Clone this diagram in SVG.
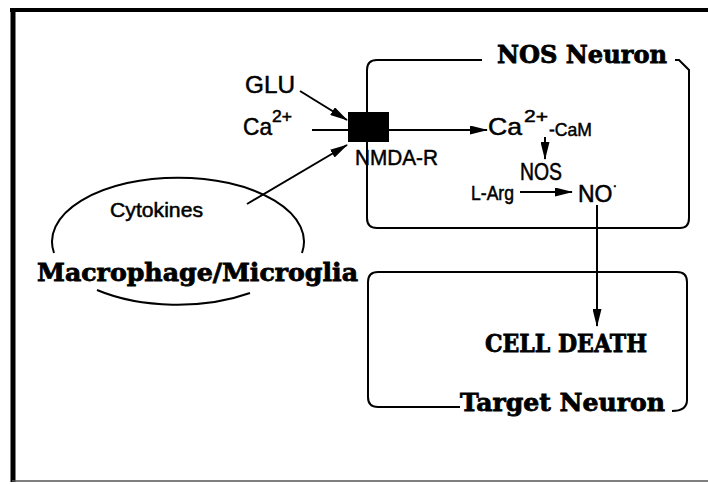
<svg xmlns="http://www.w3.org/2000/svg" width="708" height="484" viewBox="0 0 708 484">
<defs>
<marker id="ah" markerUnits="userSpaceOnUse" markerWidth="18" markerHeight="9" refX="17" refY="4.5" orient="auto">
<path d="M0,0 L18,4.5 L0,9 z" fill="#000"/>
</marker>
<style>
.sans{font-family:"Liberation Sans",Arial,sans-serif;fill:#000;stroke:#000;stroke-width:0.5}
.bold{font-family:"DejaVu Serif","Liberation Serif",serif;font-weight:bold;fill:#000;stroke:#000;stroke-width:0.8}
.ln{stroke:#000;stroke-width:2;fill:none}
.conn{stroke:#000;stroke-width:2;fill:none}
</style>
</defs>
<rect width="708" height="484" fill="#fff"/>
<g id="frame">
<line x1="13" y1="8" x2="13" y2="482" stroke="#000" stroke-width="5"/>
<line x1="10" y1="10" x2="708" y2="10" stroke="#000" stroke-width="4"/>
<line x1="12" y1="481" x2="708" y2="481" stroke="#555" stroke-width="1.5"/>
</g>
<g id="nos-neuron">
<path class="ln" d="M482,60 L377,60 Q367,60 367,70 L367,218 Q367,228 377,228 L680,228 Q689,228 689,218 L689,70 L679,60 L675,60"/>
<text class="bold" x="497" y="63" font-size="24" textLength="170" lengthAdjust="spacingAndGlyphs">NOS Neuron</text>
</g>
<g id="nmda-r">
<rect x="348" y="112" width="41" height="30" fill="#000"/>
<text class="sans" x="355" y="165" font-size="22" textLength="83" lengthAdjust="spacingAndGlyphs">NMDA-R</text>
</g>
<g id="glu">
<text class="sans" x="245" y="93" font-size="24" textLength="50" lengthAdjust="spacingAndGlyphs">GLU</text>
</g>
<g id="ca-in">
<text class="sans" x="243" y="135" font-size="24" textLength="29" lengthAdjust="spacingAndGlyphs">Ca</text>
<text class="sans" x="272" y="122" font-size="17" textLength="20" lengthAdjust="spacingAndGlyphs">2+</text>
</g>
<g id="ca-cam">
<text class="sans" x="488" y="135" font-size="24" textLength="34" lengthAdjust="spacingAndGlyphs">Ca</text>
<text class="sans" x="524" y="122" font-size="17" textLength="24" lengthAdjust="spacingAndGlyphs">2+</text>
<text class="sans" x="549" y="136" font-size="19" textLength="43" lengthAdjust="spacingAndGlyphs">-CaM</text>
</g>
<g id="nos">
<text class="sans" x="520" y="180" font-size="23" textLength="42" lengthAdjust="spacingAndGlyphs">NOS</text>
</g>
<g id="l-arg">
<text class="sans" x="471" y="200" font-size="20" textLength="43" lengthAdjust="spacingAndGlyphs">L-Arg</text>
</g>
<g id="no">
<text class="sans" x="578" y="202" font-size="23">NO<tspan dy="-12" font-size="14">·</tspan></text>
</g>
<g id="macrophage">
<path class="ln" d="M54,253 A126,64 0 1 1 302,253"/>
<path class="ln" d="M97,290 A126,64 0 0 0 250,293"/>
<text class="sans" x="110" y="217" font-size="20" textLength="93" lengthAdjust="spacingAndGlyphs">Cytokines</text>
<text class="bold" x="37" y="281" font-size="24" textLength="321" lengthAdjust="spacingAndGlyphs">Macrophage/Microglia</text>
</g>
<g id="target-neuron">
<path class="ln" d="M460,407 L378,407 Q368,407 368,397 L368,282 Q368,272 378,272 L677,272 Q687,272 687,282 L687,400 Q687,411 672,411"/>
<text class="bold" x="460" y="411" font-size="24" textLength="205" lengthAdjust="spacingAndGlyphs">Target Neuron</text>
<text class="bold" x="485" y="352" font-size="24" textLength="162" lengthAdjust="spacingAndGlyphs">CELL DEATH</text>
</g>
<g id="connectors">
<line class="conn" x1="300" y1="91" x2="347" y2="120" marker-end="url(#ah)"/>
<line class="conn" x1="312" y1="130" x2="348" y2="130"/>
<line class="conn" x1="389" y1="130" x2="487" y2="130" marker-end="url(#ah)"/>
<line class="conn" x1="247" y1="204" x2="347" y2="145" marker-end="url(#ah)"/>
<line class="conn" x1="545" y1="137" x2="545" y2="159" marker-end="url(#ah)"/>
<line class="conn" x1="520" y1="192" x2="572" y2="192" marker-end="url(#ah)"/>
<line class="conn" x1="597" y1="205" x2="597" y2="326" marker-end="url(#ah)"/>
</g>
</svg>
